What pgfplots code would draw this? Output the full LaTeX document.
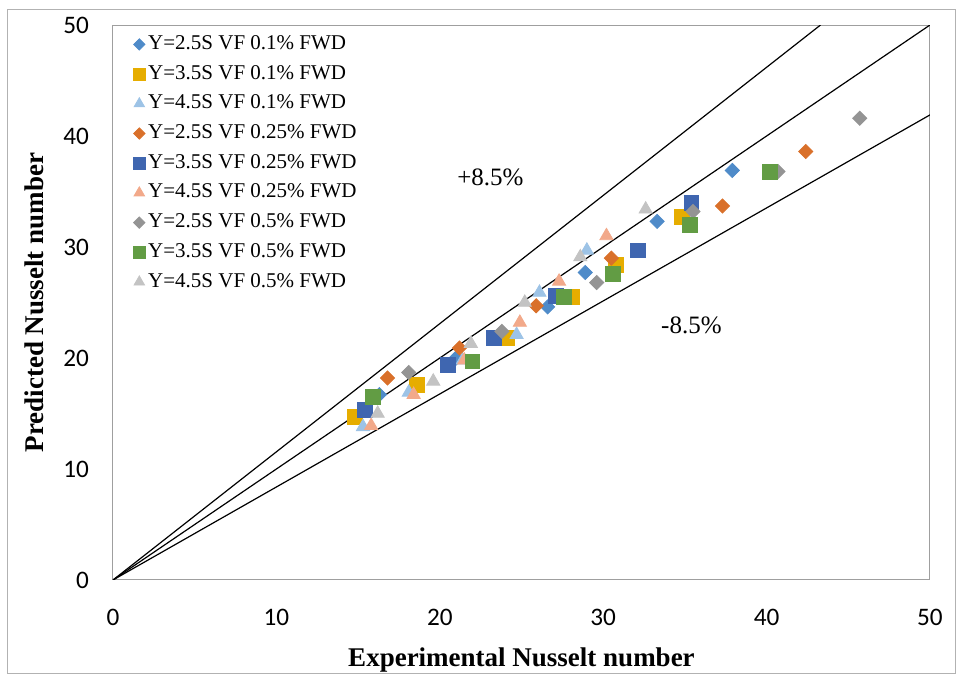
\documentclass[border=0pt]{standalone}
\usepackage{fontspec}
\setmainfont{Liberation Serif}
\newfontfamily\calibri{Carlito}
\usepackage{pgfplots}
\pgfplotsset{compat=1.18}

\definecolor{sA}{HTML}{4F8BC9}
\definecolor{sB}{HTML}{E6AD00}
\definecolor{sC}{HTML}{9DC3E6}
\definecolor{sD}{HTML}{D9702A}
\definecolor{sE}{HTML}{3F66B0}
\definecolor{sF}{HTML}{F2A98A}
\definecolor{sG}{HTML}{949494}
\definecolor{sH}{HTML}{629C44}
\definecolor{sI}{HTML}{C3C3C3}

\pgfplotsset{
  dia/.style={only marks, mark=square*, mark size=2.5pt, color=#1, mark options={rotate=45, fill=#1, draw=#1}},
  sq/.style={only marks, mark=square*, mark size=3.7pt, color=#1, mark options={fill=#1, draw=#1}},
  tri/.style={only marks, mark=triangle*, mark size=3.8pt, color=#1, mark options={fill=#1, draw=#1}},
}

\begin{document}
\begin{tikzpicture}
\useasboundingbox (-56.5pt,-47.5pt) rectangle (423.5pt,290pt);
\draw[gray!60, line width=0.5pt] (-52.5pt,-47pt) rectangle (421pt,285pt);
\begin{axis}[
  at={(0,0)}, anchor=south west,
  scale only axis, width=408.5pt, height=277.5pt,
  xmin=0, xmax=50, ymin=0, ymax=50,
  xtick={0,10,...,50}, ytick={0,10,...,50},
  axis line style={draw=gray!75, line width=0.5pt},
  major tick length=0pt,
  /pgf/number format/assume math mode=true,
  ticklabel style={font=\calibri\fontsize{12.6}{14}\selectfont},
  xticklabel style={yshift=-11pt},
  yticklabel style={xshift=-8.5pt},
  xlabel={Experimental Nusselt number},
  ylabel={Predicted Nusselt number},
  xlabel style={font=\bfseries\fontsize{13.5}{16}\selectfont, yshift=-4pt},
  ylabel style={font=\bfseries\fontsize{13.5}{16}\selectfont, yshift=3pt},
  legend style={at={(0,1)}, anchor=north west, draw=none, fill=none,
    inner sep=0pt, xshift=10pt, yshift=-4.5pt, row sep=4.85pt,
    font=\fontsize{10.5}{12}\selectfont,
    nodes={inner ysep=0pt, inner xsep=1.5pt, text height=7.5pt, text depth=2.5pt}},
  legend cell align=left,
  legend image code/.code={\draw[#1, every mark/.append style={scale=0.8}] plot coordinates {(0cm,0cm)};},
]
\addplot[black, line width=0.6pt, forget plot] coordinates {(0,0) (50,50)};
\addplot[black, line width=0.6pt, forget plot] coordinates {(0,0) (43.3,50)};
\addplot[black, line width=0.6pt, forget plot] coordinates {(0,0) (50,41.9)};

% Y=2.5S VF 0.1%
\addplot[dia=sA] coordinates {(16.3,16.7) (21.0,20.0) (26.6,24.6) (28.9,27.7) (33.3,32.3) (37.9,36.9)};
% Y=3.5S VF 0.1%
\addplot[sq=sB] coordinates {(14.8,14.7) (18.6,17.6) (24.1,21.8) (28.1,25.5) (30.8,28.4) (34.8,32.7)};
% Y=4.5S VF 0.1%
\addplot[tri=sC] coordinates {(15.3,13.8) (18.1,16.9) (21.4,19.8) (24.7,22.1) (26.1,25.9) (29.0,29.7)};
% Y=2.5S VF 0.25%
\addplot[dia=sD] coordinates {(16.8,18.2) (21.2,20.9) (25.9,24.7) (30.5,29.0) (37.3,33.7) (42.4,38.6)};
% Y=3.5S VF 0.25%
\addplot[sq=sE] coordinates {(15.4,15.3) (20.5,19.4) (23.3,21.8) (27.1,25.6) (32.1,29.7) (35.4,34.0)};
% Y=4.5S VF 0.25%
\addplot[tri=sF] coordinates {(15.8,13.9) (18.4,16.7) (21.5,19.8) (24.9,23.2) (27.3,26.9) (30.2,31.0)};
% Y=2.5S VF 0.5%
\addplot[dia=sG] coordinates {(18.1,18.7) (23.8,22.4) (29.6,26.8) (35.5,33.2) (40.7,36.8) (45.7,41.6)};
% Y=3.5S VF 0.5%
\addplot[sq=sH] coordinates {(15.9,16.5) (22.0,19.7) (27.6,25.5) (30.6,27.6) (35.3,32.0) (40.2,36.8)};
% Y=4.5S VF 0.5%
\addplot[tri=sI] coordinates {(16.2,15.0) (19.6,17.9) (21.9,21.3) (25.2,25.0) (28.6,29.1) (32.6,33.4)};

\legend{Y=2.5S VF 0.1\% FWD, Y=3.5S VF 0.1\% FWD, Y=4.5S VF 0.1\% FWD,
        Y=2.5S VF 0.25\% FWD, Y=3.5S VF 0.25\% FWD, Y=4.5S VF 0.25\% FWD,
        Y=2.5S VF 0.5\% FWD, Y=3.5S VF 0.5\% FWD, Y=4.5S VF 0.5\% FWD}

\node[font=\fontsize{12.5}{14}\selectfont] at (axis cs:23.1,36.3) {+8.5\%};
\node[font=\fontsize{12.5}{14}\selectfont] at (axis cs:35.4,22.9) {-8.5\%};
\end{axis}
\end{tikzpicture}
\end{document}
